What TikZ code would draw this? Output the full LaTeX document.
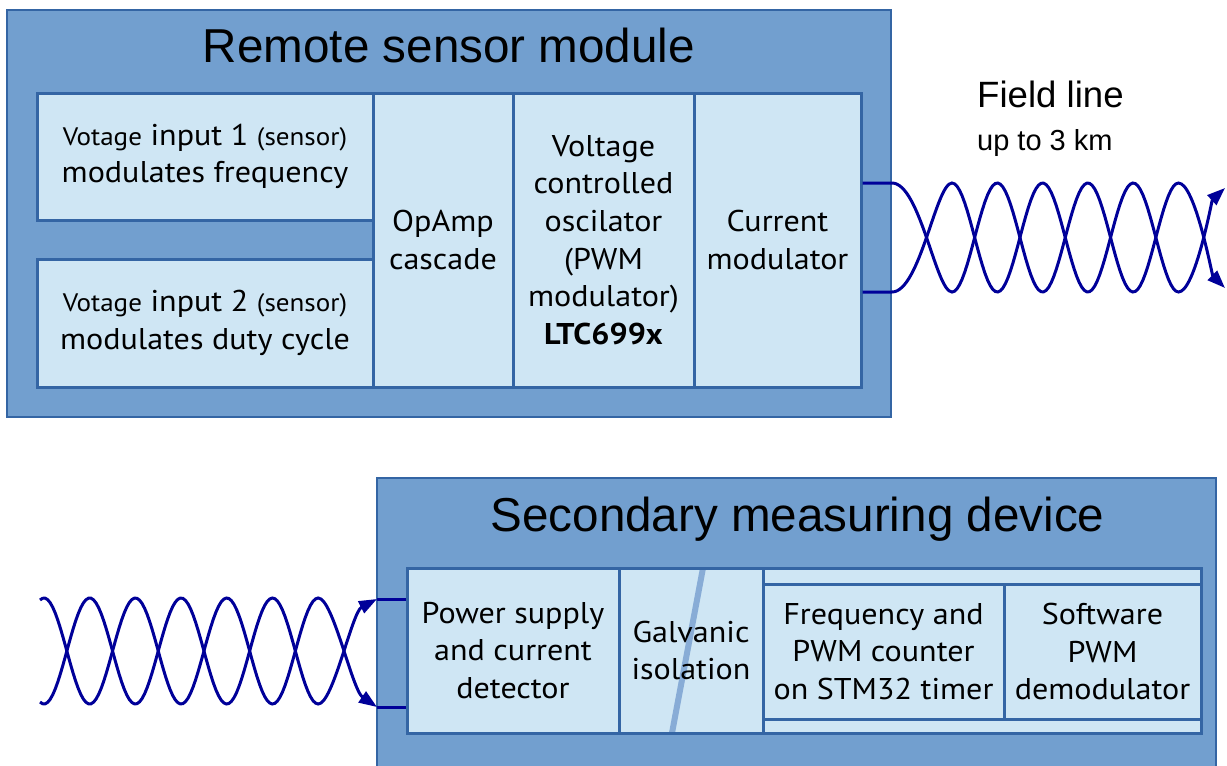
\documentclass[tikz,border=0pt]{standalone}
\usepackage{fontspec}
\setmainfont{PT Sans}[FakeStretch=1.07]
\newfontfamily\headfont{Liberation Sans}
\usetikzlibrary{calc,arrows.meta}

\definecolor{outerblue}{HTML}{729FCF}
\definecolor{innerblue}{HTML}{CFE6F4}
\definecolor{edgeblue}{HTML}{3465A4}
\definecolor{wireblue}{RGB}{0,0,153}
\definecolor{bandblue}{HTML}{88ACD6}

\newcommand{\blocksize}{\fontsize{30}{37.7}\selectfont}
\newcommand{\smallsize}{\fontsize{25.3}{37.7}\selectfont}

\tikzset{
  module/.style={draw=edgeblue, line width=1.5pt, fill=outerblue, inner sep=0pt},
  block/.style={draw=edgeblue, line width=3pt, fill=innerblue, align=center, inner sep=0pt, font=\blocksize},
  heading/.style={font=\headfont\fontsize{47.6}{50}\selectfont, inner sep=0pt},
  wire/.style={wireblue, line width=3pt},
  tip/.style={-{Triangle[length=18pt,width=13pt]}},
}

\begin{document}
\begin{tikzpicture}[x=1pt,y=-1pt]
\clip (0,0) rectangle (1227,766);

\node[module, minimum width=884pt, minimum height=407pt] (remote) at (449,213.5) {};
\node[heading, anchor=base] (remotetitle) at (449,62) {Remote sensor module};
\node[block, minimum width=336pt, minimum height=127pt] (in1) at (205,156.5) {{\smallsize Votage} input 1 {\smallsize (sensor)}\\modulates frequency};
\node[block, minimum width=336pt, minimum height=128pt] (in2) at (205,323) {{\smallsize Votage} input 2 {\smallsize (sensor)}\\modulates duty cycle};
\node[block, minimum width=140pt, minimum height=294pt] (opamp) at (443,240) {OpAmp\\cascade};
\node[block, minimum width=181pt, minimum height=294pt] (vco) at (603.5,240) {Voltage\\controlled\\oscilator\\(PWM\\modulator)\\\textbf{LTC699x}};
\node[block, minimum width=167pt, minimum height=294pt] (cm) at (777.5,240) {Current\\modulator};

\node[font=\headfont\fontsize{36.6}{40}\selectfont, inner sep=0pt, anchor=base west] (field) at (977,107) {Field line};
\node[font=\headfont\fontsize{29}{30}\selectfont, inner sep=0pt, anchor=base west] (fieldlen) at (977,150) {up to 3 km};

\node[module, minimum width=839pt, minimum height=310pt] (secondary) at (796.5,633) {};
\node[heading, anchor=base] (secondarytitle) at (797.5,531) {Secondary measuring device};
\node[block, minimum width=212pt, minimum height=165pt] (psu) at (513,650.5) {Power supply\\and current\\detector};
\node[block, minimum width=144pt, minimum height=165pt,
  path picture={\draw[bandblue, line width=6pt] ($(path picture bounding box.north)+(12,0)$) -- ($(path picture bounding box.south)+(-19,0)$);}] (galv) at (691,650.5) {Galvanic\\isolation};
\node[block, minimum width=438pt, minimum height=165pt] (mcu) at (982,650.5) {};
\node[block, minimum width=241pt, minimum height=135pt] (counter) at (883.5,651.5) {Frequency and\\PWM counter\\on STM32 timer};
\node[block, minimum width=197pt, minimum height=135pt] (demod) at (1102.5,651.5) {Software\\PWM\\demodulator};

\coordinate (outA) at (cm.east |- 0,183);
\coordinate (outB) at (cm.east |- 0,292);
\coordinate (endA) at (1225,288);
\coordinate (endB) at (1225,188);
\draw[wire, tip] (outA) -- (892,183) .. controls (920,183) and (936,292) .. (952,292)
  -- plot[domain=952:1178.5, samples=90] (\x, {237.5+54.5*cos(((\x-952)/45.3)*180)})
  .. controls (1195,183) and (1212,275) .. (endA);
\draw[wire, tip] (outB) -- (892,292) .. controls (920,292) and (936,183) .. (952,183)
  -- plot[domain=952:1178.5, samples=90] (\x, {237.5-54.5*cos(((\x-952)/45.3)*180)})
  .. controls (1195,292) and (1212,200) .. (endB);

\coordinate (inC) at (psu.west |- 0,707);
\coordinate (inD) at (psu.west |- 0,599);
\coordinate (endC) at (377,707);
\coordinate (endD) at (377,599);
\draw[wire, tip] plot[domain=40:318.2, samples=110] (\x, {651-53*cos(((\x-44)/45.7)*180)})
  .. controls (333,598) and (352,690) .. (endC);
\draw[wire, tip] plot[domain=40:318.2, samples=110] (\x, {651+53*cos(((\x-44)/45.7)*180)})
  .. controls (333,704) and (352,612) .. (endD);
\draw[wire] (endC) -- (inC);
\draw[wire] (endD) -- (inD);
\end{tikzpicture}
\end{document}
